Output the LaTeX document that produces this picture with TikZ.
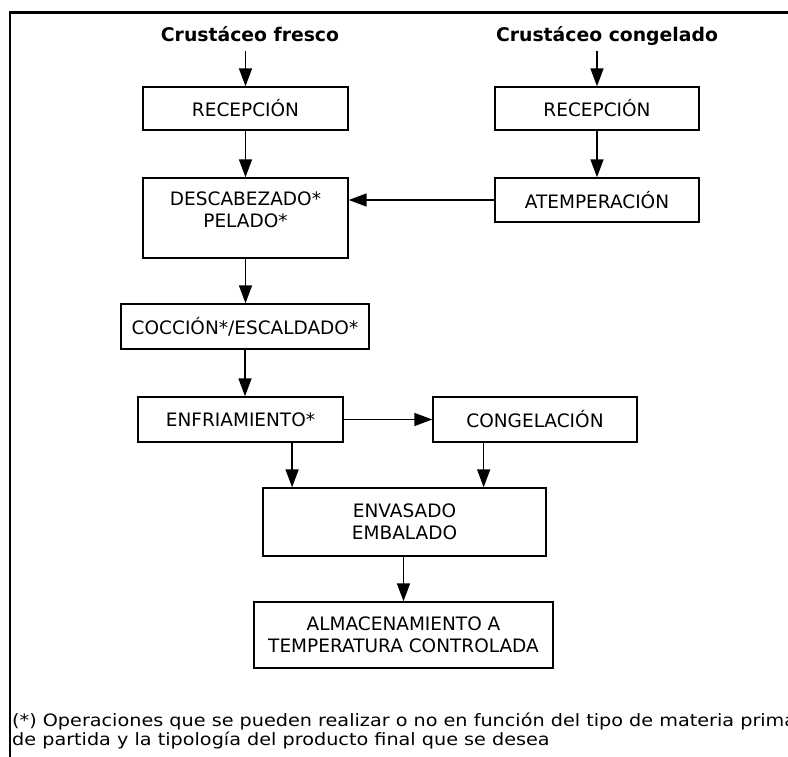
\documentclass[tikz,border=0pt]{standalone}
\usepackage{fontspec}
\setmainfont{DejaVu Sans}
\newfontfamily\footfont[FakeStretch=1.13]{DejaVu Sans}
\usetikzlibrary{arrows.meta,calc}
\begin{document}
\begin{tikzpicture}[x=1pt,y=-1pt,
  stepbox/.style={draw, line width=1.4pt, inner sep=0pt, align=center,
    font=\fontsize{18.5}{22}\selectfont},
  boxtext/.style={inner sep=0pt, align=center, font=\fontsize{18.5}{21.5}\selectfont},
  title/.style={inner sep=0pt, anchor=base, font=\fontsize{18.8}{22}\selectfont\bfseries},
  foot/.style={inner sep=0pt, anchor=base west, font=\fontsize{17}{20}\footfont},
  arr/.style={line width=1.5pt, -{Triangle[length=18pt,width=13pt]}}]
\useasboundingbox (0,0) rectangle (788,756);
\fill[white] (0,0) rectangle (788,756);
\draw[line width=2.8pt] (10,775) -- (10,12.5) -- (800,12.5);

\node[title] (t1) at (250,41) {Crustáceo fresco};
\node[title] (t2) at (607,41) {Crustáceo congelado};

\node[stepbox, minimum width=205pt, minimum height=43pt] (rec1) at (245.5,108.5) {RECEPCIÓN};
\node[stepbox, minimum width=204pt, minimum height=43pt] (rec2) at (597,108.5) {RECEPCIÓN};
\node[stepbox, minimum width=205pt, minimum height=80pt] (desc) at (245.5,218) {};
\node[boxtext] (desct) at (245.5,210) {DESCABEZADO*\\PELADO*};
\node[stepbox, minimum width=204pt, minimum height=44pt] (atem) at (597,200) {ATEMPERACIÓN};
\node[stepbox, minimum width=248pt, minimum height=45pt] (cocc) at (245,326.5) {COCCIÓN*/ESCALDADO*};
\node[stepbox, minimum width=205pt, minimum height=45pt] (enfr) at (240.5,419.5) {ENFRIAMIENTO*};
\node[stepbox, minimum width=204pt, minimum height=45pt] (cong) at (535,419.5) {CONGELACIÓN};
\node[stepbox, minimum width=283pt, minimum height=68pt] (env) at (404.5,522) {ENVASADO\\EMBALADO};
\node[stepbox, minimum width=299pt, minimum height=66pt] (alm) at (403.5,635) {ALMACENAMIENTO A\\TEMPERATURA CONTROLADA};

\node[foot] (f1) at (12,726) {(*) Operaciones que se pueden realizar o no en función del tipo de materia prima};
\node[foot] (f2) at (12,745.5) {de partida y la tipología del producto final que se desea};

\draw[arr] ([yshift=35pt]rec1.north) -- (rec1.north);
\draw[arr] ([yshift=35pt]rec2.north) -- (rec2.north);
\draw[arr] (rec1.south) -- (desc.north);
\draw[arr] (rec2.south) -- (atem.north);
\draw[arr] (atem.west) -- (desc.east |- atem.west);
\draw[arr] (desc.south) -- (desc.south |- cocc.north);
\draw[arr] (cocc.south) -- (cocc.south |- enfr.north);
\draw[arr] (enfr.east) -- (cong.west);
\coordinate (e1) at ($(enfr.south west)!0.75!(enfr.south east)$);
\coordinate (e2) at ($(cong.south west)!0.25!(cong.south east)$);
\draw[arr] (e1) -- (e1 |- env.north);
\draw[arr] (e2) -- (e2 |- env.north);
\draw[arr] (env.south -| alm.north) -- (alm.north);
\end{tikzpicture}
\end{document}
